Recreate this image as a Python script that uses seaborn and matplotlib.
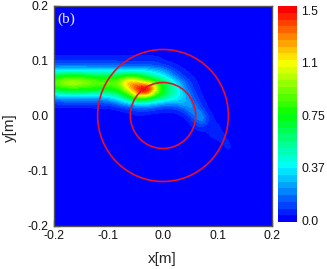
import matplotlib
matplotlib.use("Agg")
import matplotlib.pyplot as plt
import numpy as np
import seaborn as sns
from matplotlib.colors import ListedColormap
from matplotlib.patches import Circle

# magnitude, 0.01 m grid, x = -0.20 .. 0.20, rows y = 0.20 .. -0.20
y_top_rows = [0.0] * 41

y_p011 = [.03] * 20 + [.01, .01, .01, .01, .01, 0, 0, 0, 0, 0] + [0] * 11
y_p010 = [.07] * 20 + [.04, .03, .03, .02, .02, .01, 0, 0, 0, 0] + [0] * 11
y_p009 = [.18] * 10 + [.18, .18, .16, .15, .14, .14, .14, .14, .13, .12] + [.10, .07, .05, .03, .02, .01, 0, 0, 0, 0] + [0] * 11
y_p008 = [.38, .40, .42, .42, .42, .41, .40, .38, .38, .38] + [.38, .38, .38, .40, .42, .42, .42, .40, .36, .32] + [.28, .20, .13, .08, .05, .03, .01, 0, 0, 0] + [0] * 11
y_p007 = [.70, .76, .80, .82, .82, .80, .78, .74, .72, .70] + [.70, .72, .76, .82, .86, .82, .74, .64, .56, .48] + [.42, .32, .22, .14, .08, .05, .03, .01, 0, 0] + [0] * 11
y_p006 = [.88, .96, 1.02, 1.04, 1.04, 1.02, .98, .95, .92, .90] + [.90, .92, .95, 1.22, 1.28, 1.22, 1.15, 1.05, .95, .80] + [.66, .55, .42, .28, .18, .10, .05, .02, 0, 0] + [0] * 11
y_p005 = [.78, .84, .88, .90, .90, .88, .86, .84, .82, .82] + [.82, .84, .90, 1.05, 1.28, 1.45, 1.58, 1.58, 1.42, 1.02] + [.75, .62, .50, .36, .22, .12, .06, .03, 0, 0] + [0] * 11
y_p004 = [.48, .52, .54, .56, .56, .55, .54, .54, .54, .54] + [.56, .60, .68, .85, .98, 1.26, 1.46, 1.46, 1.20, .90] + [.72, .60, .50, .42, .30, .18, .09, .04, .01, 0] + [0] * 11
y_p003 = [.20, .22, .24, .24, .24, .24, .24, .24, .24, .26] + [.30, .36, .44, .55, .68, .80, .82, .78, .66, .58] + [.55, .48, .42, .36, .30, .22, .12, .06, .02, 0] + [0] * 11
y_p002 = [.08, .09, .09, .09, .09, .09, .09, .09, .10, .11] + [.12, .14, .20, .24, .30, .34, .36, .34, .32, .28] + [.24, .22, .22, .26, .28, .26, .18, .09, .04, .01] + [0] * 11
y_p001 = [.02] * 10 + [.02, .03, .04, .06, .08, .10, .12, .12, .10, .08] + [.06, .06, .07, .10, .16, .24, .24, .14, .05, .02] + [0] * 11
y_000 = [0] * 10 + [0, 0, .01, .02, .03, .04, .04, .03, .02, .02] + [.02, .02, .02, .03, .06, .13, .24, .26, .11, .04] + [.02] + [0] * 10
y_m001 = [0] * 10 + [0, 0, 0, 0, 0, .01, .01, .01, .01, .01] + [.01, .01, .01, .01, .02, .06, .14, .24, .13, .05] + [.03, .02] + [0] * 9
y_m002 = [0] * 20 + [0, 0, 0, 0, .01, .03, .08, .12, .06, .05] + [.05, .03] + [0] * 9
y_m003 = [0] * 20 + [0, 0, 0, 0, 0, .01, .02, .03, .04, .05] + [.05, .04, .02] + [0] * 8
y_m004 = [0] * 20 + [0, 0, 0, 0, 0, 0, 0, .01, .03, .04] + [.05, .05, .03, .01] + [0] * 7
y_m005 = [0] * 20 + [0, 0, 0, 0, 0, 0, 0, 0, .03, .03] + [.03, .05, .05, .02] + [0] * 7
y_m006 = [0] * 20 + [0, 0, 0, 0, 0, 0, 0, 0, .02, .01] + [.02, .03, .05, .03] + [0] * 7
y_m007 = [0] * 30 + [0, .02, .03, .03] + [0] * 7
y_m008 = [0] * 30 + [0, 0, .01, .01] + [0] * 7

field_rows = (
    [y_top_rows] * 9
    + [y_p011, y_p010, y_p009, y_p008, y_p007, y_p006, y_p005, y_p004, y_p003, y_p002, y_p001, y_000]
    + [y_m001, y_m002, y_m003, y_m004, y_m005, y_m006, y_m007, y_m008]
    + [y_top_rows] * 12
)

ring_radii = [0.06, 0.12]
axis_ticks = [-0.2, -0.1, 0.0, 0.1, 0.2]
axis_labels = ["-0.2", "-0.1", "0.0", "0.1", "0.2"]
cbar_ticks = [0.0, 0.375, 0.75, 1.125, 1.5]
cbar_labels = ["0.0", "0.37", "0.75", "1.1", "1.5"]
cmap_colors = ["#0000ff", "#00ffff", "#00ff00", "#ffff00", "#ff0000"]

FRAME = "#555555"
VMIN, VMAX = -0.01, 1.53
sns.set_style("white")
plt.rcParams["font.family"] = ["Liberation Sans", "DejaVu Sans"]

cmap = ListedColormap(sns.blend_palette(cmap_colors, 32))

W, H = 327, 269
fig = plt.figure(figsize=(W / 100, H / 100), dpi=100)
ax = fig.add_axes([54 / W, 1 - 225.5 / H, 218 / W, 220 / H])
cax = fig.add_axes([278 / W, 1 - 222 / H, 19 / W, 216 / H])

field = np.array(field_rows)
sns.heatmap(
    field,
    ax=ax,
    cbar_ax=cax,
    cmap=cmap,
    vmin=VMIN,
    vmax=VMAX,
    xticklabels=False,
    yticklabels=False,
    cbar_kws={"ticks": cbar_ticks},
)
# same field again, smoothed in data space so the cells do not show
ax.imshow(field, extent=(-0.5, 40.5, 40.5, -0.5), cmap=cmap, vmin=VMIN, vmax=VMAX,
          interpolation="bicubic", interpolation_stage="data", aspect="auto", zorder=2)
ax.set_xlim(0, 40)
ax.set_ylim(40, 0)


def col(x):
    return (x + 0.2) / 0.01


def row(y):
    return (0.2 - y) / 0.01


for r in ring_radii:
    ax.add_patch(Circle((col(0), row(0)), r / 0.01, fill=False, edgecolor="#e8102a", linewidth=1.2, zorder=3))

ax.set_xticks([col(v) for v in axis_ticks], axis_labels)
ax.set_yticks([row(v) for v in axis_ticks], axis_labels)
ax.tick_params(axis="both", direction="in", length=4, width=1, color=FRAME, labelsize=8.8, pad=3,
               left=True, bottom=True, labelcolor="#111111")
ax.tick_params(axis="y", pad=4)
for spine in ax.spines.values():
    spine.set_visible(True)
    spine.set_color(FRAME)
    spine.set_linewidth(1.0)

ax.set_xlabel("x[m]", fontsize=11)
ax.set_ylabel("y[m]", fontsize=11)
ax.xaxis.set_label_coords(0.498, -0.12)
ax.yaxis.set_label_coords(-0.17, 0.445)
ax.text(0.015, 0.939, "(b)", transform=ax.transAxes, color="#e8e8ff", fontsize=11,
        fontfamily=["Liberation Serif"], ha="left", va="center", zorder=4)

cax.set_yticks(cbar_ticks, cbar_labels)
cax.tick_params(axis="y", length=0, labelsize=8.8, pad=3, labelcolor="#111111", right=True)

fig.savefig("out.png", dpi=100)
